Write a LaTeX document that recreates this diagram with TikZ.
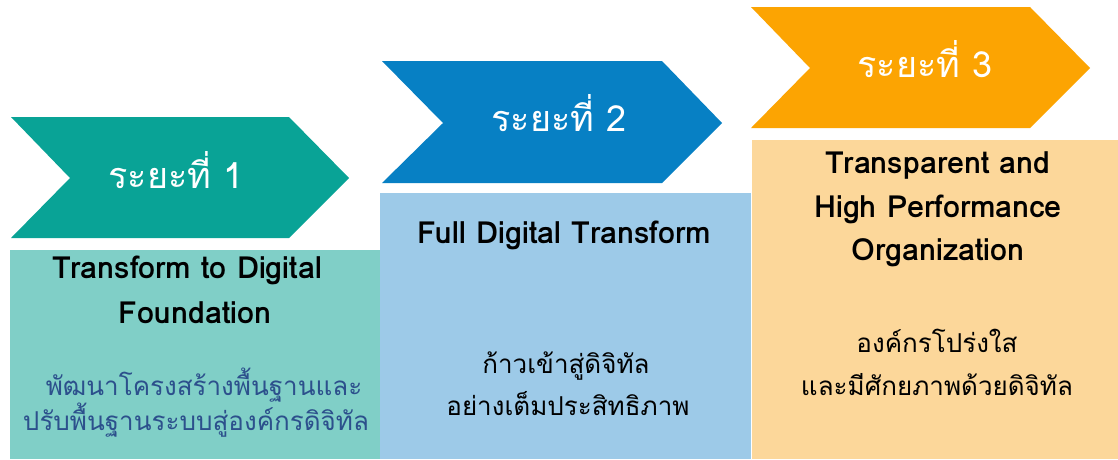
\documentclass[tikz,border=0pt]{standalone}
\usepackage{fontspec}
\newfontfamily\thaifont[Script=Thai]{Loma}
\definecolor{tealdark}{RGB}{9,163,150}
\definecolor{teallight}{RGB}{128,207,199}
\definecolor{bluedark}{RGB}{7,128,196}
\definecolor{bluelight}{RGB}{157,202,232}
\definecolor{orangedark}{RGB}{252,164,2}
\definecolor{orangelight}{RGB}{252,215,154}
\definecolor{thaiblue}{RGB}{44,80,140}
\tikzset{
  headtext/.style={text=white,font=\thaifont\fontsize{36}{42}\selectfont,inner sep=0pt},
  entext/.style={text=black,font=\thaifont\bfseries\fontsize{30.5}{36}\selectfont,anchor=base,inner sep=0pt},
  thtext/.style={font=\thaifont\fontsize{26}{32}\selectfont,anchor=base,inner sep=0pt},
}
\begin{document}
\begin{tikzpicture}[x=1pt,y=-1pt]
\useasboundingbox (0,0) rectangle (1118,459);
\fill[white] (0,0) rectangle (1118,459);
% boxes
\fill[teallight] (10,250) rectangle (380,459);
\fill[bluelight] (380,193) rectangle (751,459);
\fill[orangelight] (752,140) rectangle (1118,459);
% chevrons
\fill[tealdark] (11,117) -- (289,117) -- (349,178) -- (289,238) -- (11,238) -- (70,178) -- cycle;
\fill[bluedark] (382,61) -- (662,61) -- (722,123) -- (662,183) -- (382,183) -- (443,123) -- cycle;
\fill[orangedark] (751,7) -- (1030,7) -- (1090,68) -- (1030,128) -- (751,128) -- (810,68) -- cycle;
% headings
\node[headtext] (h1) at (176,170) {ระยะที่ 1};
\node[headtext] (h2) at (559,113) {ระยะที่ 2};
\node[headtext] (h3) at (925,59) {ระยะที่ 3};
% box 1
\node[entext] (e1a) at (187,278) {Transform to Digital};
\node[entext] (e1b) at (195,323) {Foundation};
\node[thtext,text=thaiblue] (t1a) at (204,395) {พัฒนาโครงสร้างพื้นฐานและ};
\node[thtext,text=thaiblue] (t1b) at (196,430) {ปรับพื้นฐานระบบสู่องค์กรดิจิทัล};
% box 2
\node[entext] (e2a) at (564,243) {Full Digital Transform};
\node[thtext] (t2a) at (566,373) {ก้าวเข้าสู่ดิจิทัล};
\node[thtext] (t2b) at (568,415) {อย่างเต็มประสิทธิภาพ};
% box 3
\node[entext] (e3a) at (938,173) {Transparent and};
\node[entext] (e3b) at (938,217) {High Performance};
\node[entext] (e3c) at (938,260) {Organization};
\node[thtext] (t3a) at (937,352) {องค์กรโปร่งใส};
\node[thtext] (t3b) at (937,395) {และมีศักยภาพด้วยดิจิทัล};
\end{tikzpicture}
\end{document}
